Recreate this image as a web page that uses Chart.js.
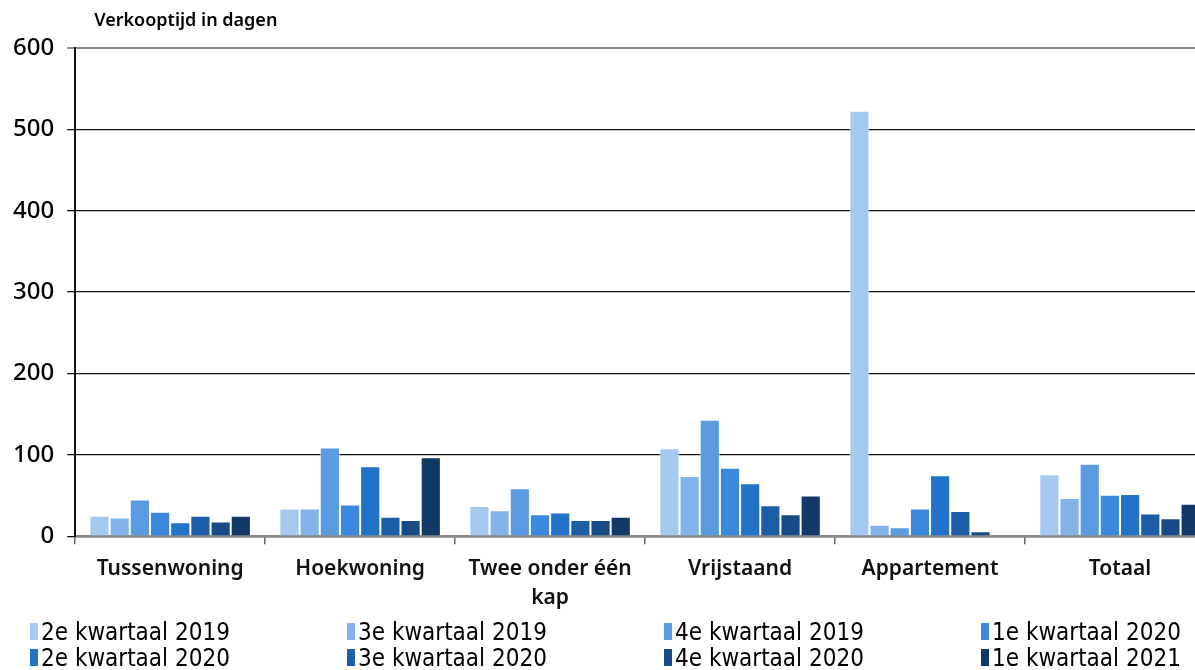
<!DOCTYPE html>
<html>
<head>
<meta charset="utf-8">
<script src="https://cdn.jsdelivr.net/npm/chart.js@4"></script>
<style>
  body { margin: 0; width: 1195px; height: 670px; overflow: hidden; background: #fff; }
  #wrap { position: absolute; left: 0; top: 0; width: 1215px; height: 627px; }
  #legenda { position: absolute; left: 30px; top: 619px; display: grid;
    grid-template-columns: repeat(4, 317px); row-gap: 1px;
    font-family: "DejaVu Sans Condensed", "Liberation Sans Narrow", sans-serif; font-size: 24px; color: #000; }
  #legenda div { display: flex; align-items: center; height: 25px; white-space: nowrap; }
  #legenda span { display: inline-block; width: 8px; height: 17px; margin-right: 3px; }
</style>
</head>
<body>
<div id="wrap"><canvas id="grafico" width="1215" height="627"></canvas></div>
<div id="legenda"></div>
<script>
const categorieen = ['Tussenwoning', 'Hoekwoning', ['Twee onder één', 'kap'], 'Vrijstaand', 'Appartement', 'Totaal'];
const kwartalen = ['2e kwartaal 2019', '3e kwartaal 2019', '4e kwartaal 2019', '1e kwartaal 2020',
  '2e kwartaal 2020', '3e kwartaal 2020', '4e kwartaal 2020', '1e kwartaal 2021'];
const kleuren = ['#a6c9ef', '#83b3e8', '#5a9be2', '#3a89de', '#2273c8', '#1c5ea6', '#194b89', '#113867'];

// verkooptijd per kwartaal, per woningtype
const q2_2019 = [25, 34, 37, 108, 523, 76];
const q3_2019 = [23, 34, 32, 74, 14, 47];
const q4_2019 = [45, 109, 59, 143, 11, 89];
const q1_2020 = [30, 39, 27, 84, 34, 51];
const q2_2020 = [17, 86, 29, 65, 75, 52];
const q3_2020 = [25, 24, 20, 38, 31, 28];
const q4_2020 = [18, 20, 20, 27, 6, 22];
const q1_2021 = [25, 97, 24, 50, null, 40];
const reeksen = [q2_2019, q3_2019, q4_2019, q1_2020, q2_2020, q3_2020, q4_2020, q1_2021];

const yTicks = [0, 100, 200, 300, 400, 500, 600];

const titelPlugin = {
  id: 'titel',
  afterDraw(chart) {
    const c = chart.ctx;
    c.save();
    c.font = '600 18px "Noto Sans", sans-serif';
    c.fillStyle = '#000';
    c.textBaseline = 'middle';
    c.fillText('Verkooptijd in dagen', chart.chartArea.left + 19, 21);
    c.restore();
  }
};

const ctx = document.getElementById('grafico').getContext('2d');
const grafiek = new Chart(ctx, {
  type: 'bar',
  data: {
    labels: categorieen,
    datasets: reeksen.map((d, i) => ({
      label: kwartalen[i],
      data: d,
      backgroundColor: kleuren[i],
      borderColor: 'rgba(255,255,255,0.55)',
      borderWidth: 1,
      categoryPercentage: 0.85,
      barPercentage: 1
    }))
  },
  options: {
    responsive: false,
    animation: false,
    layout: { padding: { top: 48, left: 0, right: 0, bottom: 4 } },
    plugins: { legend: { display: false }, tooltip: { enabled: false } },
    scales: {
      x: {
        grid: { drawOnChartArea: false, tickLength: 8, color: '#666', lineWidth: 1.5 },
        border: { color: '#8a8a8a', width: 2.5 },
        ticks: { color: '#111', font: { family: '"Noto Sans", sans-serif', size: 21, weight: '600', lineHeight: 1.4 }, padding: 10 }
      },
      y: {
        min: 0, max: 600,
        afterBuildTicks: ax => { ax.ticks = yTicks.map(v => ({ value: v })); },
        grid: {
          tickLength: 8,
          color: c => c.tick.value === 600 ? '#8a8a8a' : '#111',
          lineWidth: c => c.tick.value === 600 ? 2 : 1.3
        },
        border: { color: '#111', width: 2 },
        ticks: { color: '#000', font: { family: '"Noto Sans", sans-serif', size: 24, weight: '500' }, padding: 13 }
      }
    }
  },
  plugins: [titelPlugin]
});

// legenda in 4 kolommen
const leg = document.getElementById('legenda');
grafiek.data.datasets.forEach(ds => {
  const item = document.createElement('div');
  item.innerHTML = `<span style="background:${ds.backgroundColor}"></span>${ds.label}`;
  leg.appendChild(item);
});
</script>
</body>
</html>
